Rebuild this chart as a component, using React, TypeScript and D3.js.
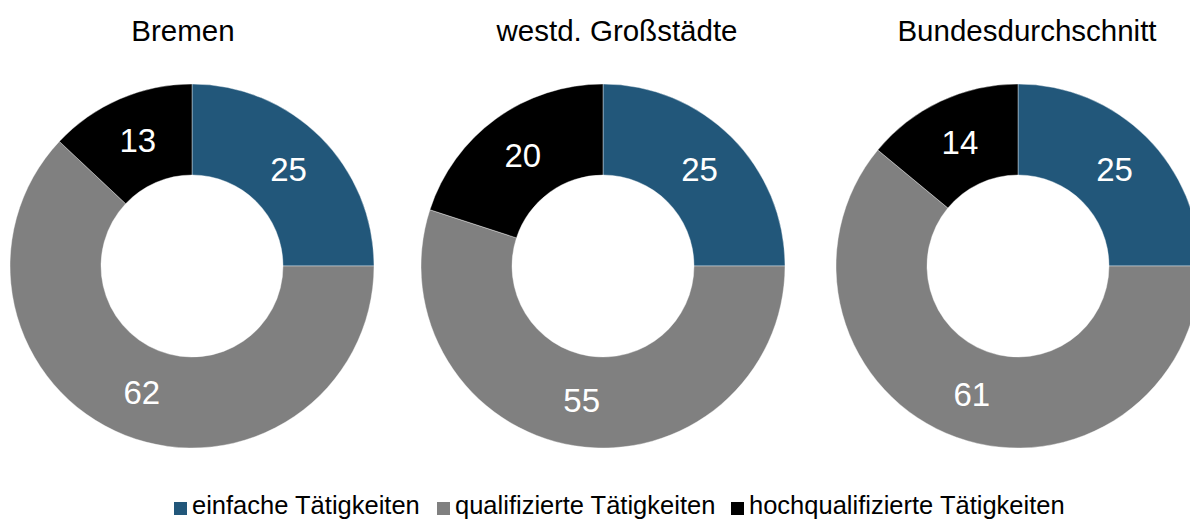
import React from "react";
import * as d3 from "d3";

const categories = ["einfache Tätigkeiten", "qualifizierte Tätigkeiten", "hochqualifizierte Tätigkeiten"];
const colors = ["#22577a", "#808080", "#000000"];
const regions = ["Bremen", "westd. Großstädte", "Bundesdurchschnitt"];
const bremen = [25, 62, 13];
const westd = [25, 55, 20];
const bund = [25, 61, 14];
const seriesValues = [bremen, westd, bund];

const W = 1190;
const H = 519;
const centersX = [192, 603, 1018];
const titleX = [183, 617, 1027];
const cy = 266;
const R = 182;
const r = 91;

export default function App() {
  const pie = d3.pie<number>().sort(null).value((d) => d);
  const arc = d3.arc<d3.PieArcDatum<number>>().innerRadius(r).outerRadius(R);
  const labelArc = d3.arc<d3.PieArcDatum<number>>().innerRadius((R + r) / 2).outerRadius((R + r) / 2);

  const legendItems = [
    { x: 174, label: categories[0], c: colors[0] },
    { x: 437, label: categories[1], c: colors[1] },
    { x: 731, label: categories[2], c: colors[2] },
  ];

  return (
    <svg
      width={W}
      height={H}
      style={{ position: "absolute", left: 0, top: 0, background: "#fff" }}
      fontFamily="'Liberation Sans', Arial, sans-serif"
    >
      <rect width={W} height={H} fill="#fff" />
      {seriesValues.map((vals, i) => {
        const arcs = pie(vals);
        return (
          <g key={regions[i]}>
            <text x={titleX[i]} y={41} textAnchor="middle" fontSize={29.5} fill="#000">
              {regions[i]}
            </text>
            <g transform={`translate(${centersX[i]},${cy})`}>
              {arcs.map((a, j) => (
                <path key={j} d={arc(a) || ""} fill={colors[j]} stroke="#fff" strokeWidth={0.4} />
              ))}
              {arcs.map((a, j) => {
                const [lx, ly] = labelArc.centroid(a);
                return (
                  <text
                    key={"l" + j}
                    x={lx}
                    y={ly}
                    textAnchor="middle"
                    dominantBaseline="central"
                    fontSize={33}
                    fill="#fff"
                  >
                    {vals[j]}
                  </text>
                );
              })}
            </g>
          </g>
        );
      })}
      {legendItems.map((it) => (
        <g key={it.label}>
          <rect x={it.x} y={502} width={13} height={13} fill={it.c} />
          <text x={it.x + 18} y={514} fontSize={25.5} fill="#000">
            {it.label}
          </text>
        </g>
      ))}
    </svg>
  );
}
